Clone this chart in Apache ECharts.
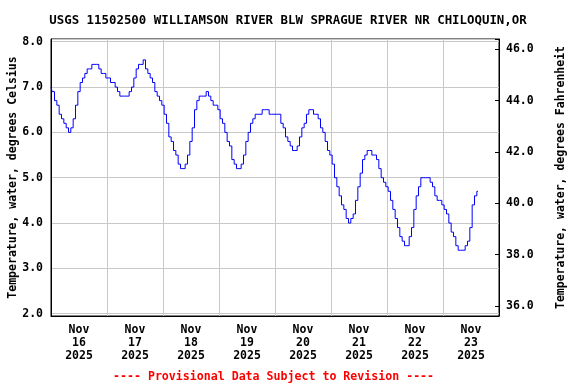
<!DOCTYPE html>
<html>
<head>
<meta charset="utf-8">
<script src="https://cdn.jsdelivr.net/npm/echarts@6/dist/echarts.min.js"></script>
<style>html,body{margin:0;padding:0;background:#fff}#c{width:576px;height:384px}</style>
</head>
<body>
<div id="c"></div>
<script>
// Hourly readings starting 2025-11-16 00:00 (hour offsets 0..183), degrees Celsius
const startLabel = '2025-11-16 00:00';
const hourStep = 1;
const tempC = [
  7.0,6.9,6.7,6.6,6.4,6.3,6.2,6.1,6.0,6.1,6.3,6.6,6.9,7.1,7.2,7.3,7.4,7.4,7.5,7.5,7.5,7.4,7.3,7.3,
  7.2,7.2,7.1,7.1,7.0,6.9,6.8,6.8,6.8,6.8,6.9,7.0,7.2,7.4,7.5,7.5,7.6,7.4,7.3,7.2,7.1,6.9,6.8,6.7,
  6.6,6.4,6.2,5.9,5.8,5.6,5.5,5.3,5.2,5.2,5.3,5.5,5.8,6.1,6.5,6.7,6.8,6.8,6.8,6.9,6.8,6.7,6.6,6.6,
  6.5,6.3,6.2,6.0,5.8,5.7,5.4,5.3,5.2,5.2,5.3,5.5,5.8,6.0,6.2,6.3,6.4,6.4,6.4,6.5,6.5,6.5,6.4,6.4,
  6.4,6.4,6.4,6.2,6.1,5.9,5.8,5.7,5.6,5.6,5.7,5.9,6.1,6.2,6.4,6.5,6.5,6.4,6.4,6.3,6.1,6.0,5.8,5.6,
  5.5,5.3,5.0,4.8,4.6,4.4,4.3,4.1,4.0,4.1,4.2,4.5,4.8,5.1,5.4,5.5,5.6,5.6,5.5,5.5,5.4,5.2,5.0,4.9,
  4.8,4.7,4.5,4.3,4.1,3.9,3.7,3.6,3.5,3.5,3.7,3.9,4.3,4.6,4.8,5.0,5.0,5.0,5.0,4.9,4.8,4.6,4.5,4.5,
  4.4,4.3,4.2,4.0,3.8,3.7,3.5,3.4,3.4,3.4,3.5,3.6,3.9,4.4,4.6,4.7
];
const dayLabels = ['Nov\n16\n2025','Nov\n17\n2025','Nov\n18\n2025','Nov\n19\n2025','Nov\n20\n2025','Nov\n21\n2025','Nov\n22\n2025','Nov\n23\n2025'];
const leftTicks = ['2.0','3.0','4.0','5.0','6.0','7.0','8.0'];
const rightTicks = ['36.0','38.0','40.0','42.0','44.0','46.0'];
const titleText = 'USGS 11502500 WILLIAMSON RIVER BLW SPRAGUE RIVER NR CHILOQUIN,OR';
const footerText = '---- Provisional Data Subject to Revision ----';

const seriesData = tempC.map((v, i) => [i * hourStep, v]);
const FONT = '"DejaVu Sans Mono", "Liberation Mono", monospace';
const isInt = v => Math.abs(v - Math.round(v)) < 1e-6;

const chart = echarts.init(document.getElementById('c'), null, {renderer: 'canvas'});
chart.setOption({
  animation: false,
  backgroundColor: '#fff',
  title: [
    {text: titleText, left: 'center', top: 10,
     textStyle: {fontFamily: FONT, fontWeight: 'bold', fontSize: 12.4, color: '#000'}},
    {text: footerText, left: 108, top: 366,
     textStyle: {fontFamily: FONT, fontWeight: 'bold', fontSize: 11.6, color: '#ff0000'}}
  ],
  grid: {left: 51, right: 77, top: 39, bottom: 68, containLabel: false, outerBoundsMode: 'none',
         show: true, borderColor: '#000', borderWidth: 1, backgroundColor: 'transparent'},
  xAxis: [
    {type: 'value', min: 0, max: 192, interval: 24, position: 'bottom',
     axisLine: {show: true, onZero: false, lineStyle: {color: '#000', width: 1}},
     axisTick: {show: false}, axisLabel: {show: false},
     splitLine: {show: true, lineStyle: {color: '#c8c8c8', width: 1}}},
    {type: 'value', min: 0, max: 192, interval: 12, position: 'bottom',
     axisLine: {show: false, onZero: false}, axisTick: {show: false}, splitLine: {show: false},
     axisLabel: {show: true, margin: 8, lineHeight: 13, color: '#000',
       fontFamily: FONT, fontWeight: 'bold', fontSize: 11.5, align: 'center',
       showMinLabel: false, showMaxLabel: false,
       formatter: v => { const k = Math.round(v / 12); return (k % 2 === 1) ? (dayLabels[(k - 1) / 2] || '') : ''; }}}
  ],
  yAxis: [
    {type: 'value', min: 1.949, max: 8.06, splitNumber: 6, position: 'left',
     name: 'Temperature, water, degrees Celsius', nameLocation: 'middle', nameGap: 32,
     nameMoveOverlap: false,
     nameTextStyle: {fontFamily: FONT, fontWeight: 'bold', fontSize: 11.5, color: '#000'},
     axisLine: {show: true, onZero: false, lineStyle: {color: '#000'}}, axisTick: {show: false},
     axisLabel: {margin: 8, color: '#000', fontFamily: FONT, fontWeight: 'bold', fontSize: 11.5,
       formatter: v => isInt(v) ? (leftTicks[Math.round(v) - 2] || '') : ''},
     splitLine: {show: true, lineStyle: {color: '#c8c8c8', width: 1}}},
    {type: 'value', min: 35.61, max: 46.40, splitNumber: 5, position: 'right', alignTicks: false,
     name: 'Temperature, water, degrees Fahrenheit', nameLocation: 'middle', nameGap: 56,
     nameMoveOverlap: false,
     nameTextStyle: {fontFamily: FONT, fontWeight: 'bold', fontSize: 11.5, color: '#000'},
     axisLine: {show: true, onZero: false, lineStyle: {color: '#000'}},
     axisTick: {show: true, inside: true, length: 4, lineStyle: {color: '#000'}},
     axisLabel: {margin: 7, color: '#000', fontFamily: FONT, fontWeight: 'bold', fontSize: 11.5,
       formatter: v => (isInt(v) && Math.round(v) % 2 === 0) ? (rightTicks[(Math.round(v) - 36) / 2] || '') : ''},
     splitLine: {show: false}}
  ],
  series: [{
    type: 'line', xAxisIndex: 0, yAxisIndex: 0, data: seriesData, step: 'middle',
    showSymbol: false, symbol: 'none', lineStyle: {color: '#0000ff', width: 1}
  }]
});
</script>
</body>
</html>
